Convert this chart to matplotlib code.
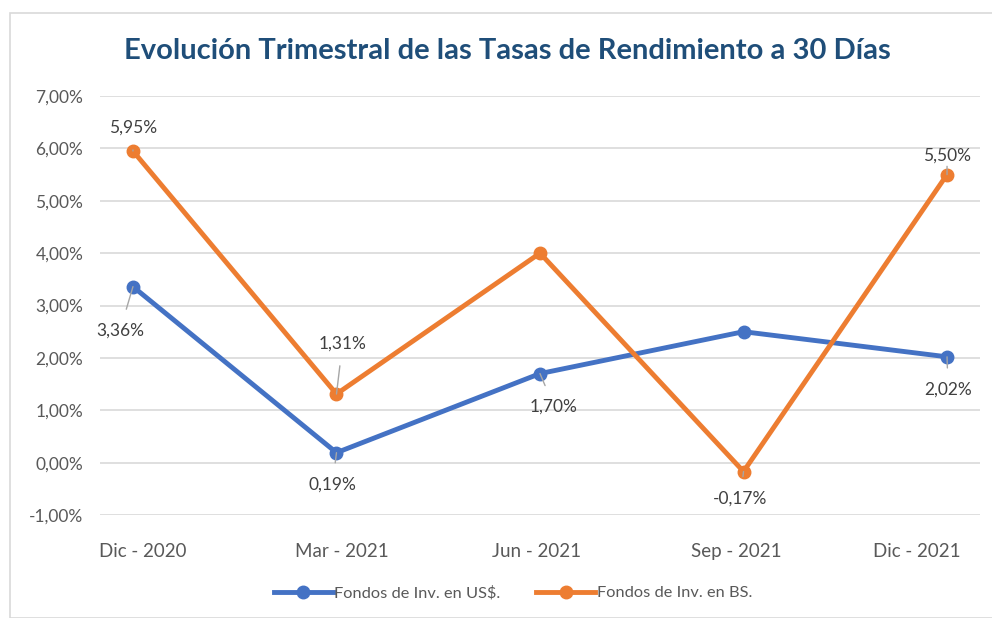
import numpy as np
import matplotlib.pyplot as plt
import matplotlib.transforms as mtransforms
from matplotlib.patches import Rectangle

plt.rcParams['font.family'] = ['Lato', 'DejaVu Sans']

periods = ['Dic - 2020', 'Mar - 2021', 'Jun - 2021', 'Sep - 2021', 'Dic - 2021']
usd = [3.36, 0.19, 1.70, 2.50, 2.02]
bs = [5.95, 1.31, 4.00, -0.17, 5.50]
yticks = [-1, 0, 1, 2, 3, 4, 5, 6, 7]

# which points carry a data label, and where it sits (offset in pixels)
usd_labels = {0: (-13, -44), 1: (-4, -32), 2: (14, -33), 4: (1, -33)}
bs_labels = {0: (0, 23), 1: (6, 50), 3: (-3, -27), 4: (0, 19)}

BLUE = '#4472C4'
ORANGE = '#ED7D31'
GREY = '#595959'


def pct(v):
    return f'{v:.2f}%'.replace('.', ',')


fig = plt.figure(figsize=(9.92, 6.18), dpi=100)
fig.patch.set_facecolor('white')
fig.patches.append(Rectangle((10 / 992, 0), 1, 1 - 13 / 618, transform=fig.transFigure,
                             fill=False, edgecolor='#D9D9D9', lw=1.2))

ax = fig.add_axes([100 / 992, 1 - 515 / 618, 880 / 992, (515 - 96) / 618])
x = np.arange(len(periods))

ax.plot(x, usd, color=BLUE, lw=3.5, marker='o', ms=9, label='Fondos de Inv. en US$.', zorder=3)
ax.plot(x, bs, color=ORANGE, lw=3.5, marker='o', ms=9, label='Fondos de Inv. en BS.', zorder=3)

for series, labels in ((usd, usd_labels), (bs, bs_labels)):
    for i, (dx, dy) in labels.items():
        ax.annotate(pct(series[i]), (x[i], series[i]), xytext=(dx, dy), textcoords='offset pixels',
                    ha='center', va='center', fontsize=12.5, color='#404040',
                    arrowprops=dict(arrowstyle='-', color='#A6A6A6', lw=1, shrinkA=8, shrinkB=0),
                    zorder=4)

ax.set_xlim(-33 / 203.75, 4 + 33 / 203.75)
ax.set_ylim(-1, 7)
ax.set_yticks(yticks)
ax.set_yticklabels([pct(v) for v in yticks], fontsize=12.5, color=GREY)
ax.set_xticks(x)
ax.set_xticklabels(periods, fontsize=13.5, color=GREY)
ax.tick_params(length=0, axis='y', pad=12)
ax.tick_params(length=0, axis='x', pad=20)

# Excel spreads the end category labels toward the edges
shifts = [10, 5, -3, -7, -30]
for lab, s in zip(ax.get_xticklabels(), shifts):
    lab.set_transform(lab.get_transform() + mtransforms.ScaledTranslation(s / 100, 0, fig.dpi_scale_trans))

ax.grid(axis='y', color='#D9D9D9', lw=1.2)
ax.set_axisbelow(True)
for sp in ax.spines.values():
    sp.set_visible(False)

fig.text(507 / 992, 1 - 51 / 618, 'Evolución Trimestral de las Tasas de Rendimiento a 30 Días',
         ha='center', va='center', fontsize=21, fontweight='bold', color='#1F4E79')

ax.legend(loc='center', bbox_to_anchor=(513 / 992, 1 - 593 / 618), bbox_transform=fig.transFigure,
          ncol=2, frameon=False, fontsize=11.8, labelcolor=GREY, handlelength=3.6,
          handletextpad=0.1, columnspacing=2.2)

fig.savefig('out.png', dpi=100)
